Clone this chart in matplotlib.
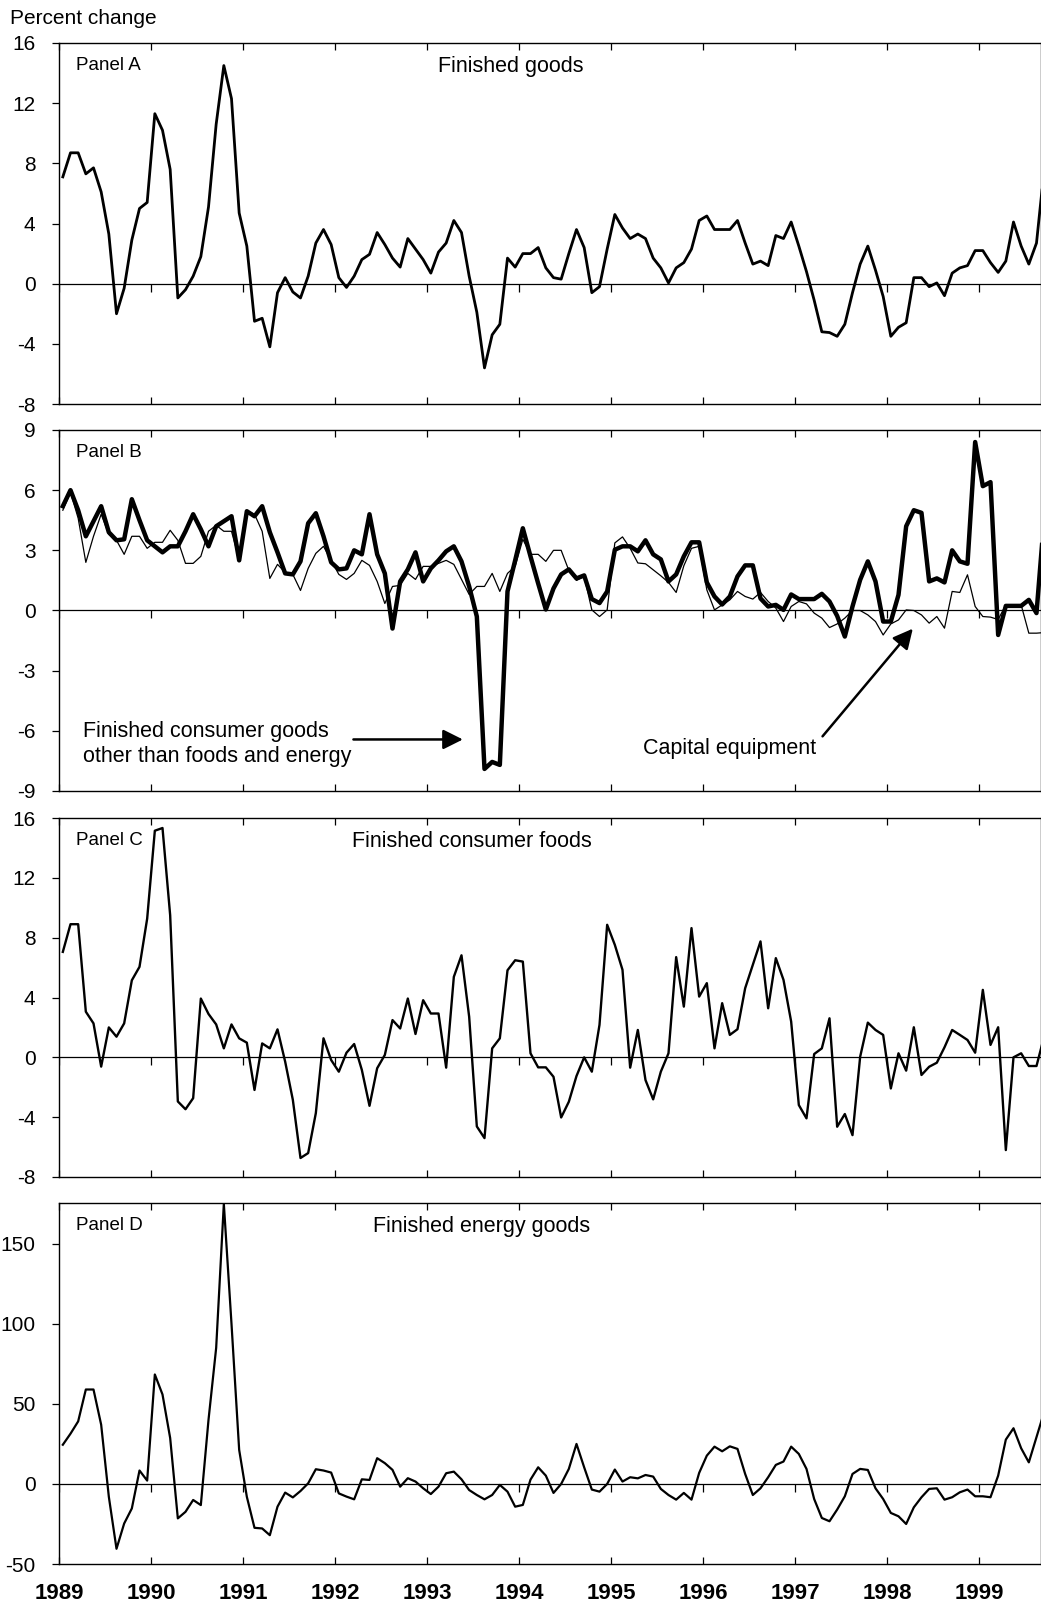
import numpy as np
import matplotlib
matplotlib.use("Agg")
import matplotlib.pyplot as plt

plt.rcParams['font.family'] = ['Liberation Sans', 'DejaVu Sans']

# ---------------- data (monthly, Jan 1989 onward) ----------------
years = list(range(1989, 2000))
year_labels = [str(y) for y in years]

finished_goods = [
    7.1, 8.7, 8.7, 7.3, 7.7, 6.1, 3.3, -2.0, -0.3, 2.9,
    5.0, 5.4, 11.3, 10.2, 7.6, -0.95, -0.4, 0.5, 1.8, 5.1,
    10.6, 14.5, 12.3, 4.7, 2.5, -2.5, -2.3, -4.2, -0.6, 0.4,
    -0.55, -0.95, 0.5, 2.7, 3.6, 2.6, 0.4, -0.25, 0.5, 1.6,
    1.95, 3.4, 2.6, 1.7, 1.1, 3.0, 2.3, 1.6, 0.7, 2.1,
    2.7, 4.2, 3.4, 0.5, -1.9, -5.6, -3.4, -2.7, 1.7, 1.1,
    2.0, 2.0, 2.4, 1.05, 0.4, 0.3, 2.0, 3.6, 2.4, -0.6,
    -0.2, 2.3, 4.6, 3.7, 3.0, 3.3, 3.0, 1.7, 1.05, 0.05,
    1.05, 1.4, 2.3, 4.2, 4.5, 3.6, 3.6, 3.6, 4.2, 2.7,
    1.3, 1.5, 1.2, 3.2, 3.0, 4.1, 2.5, 0.8, -1.1, -3.2,
    -3.25, -3.5, -2.7, -0.6, 1.3, 2.5, 0.9, -0.85, -3.5, -2.9,
    -2.6, 0.4, 0.4, -0.2, 0.05, -0.8, 0.7, 1.05, 1.2, 2.2,
    2.2, 1.4, 0.75, 1.5, 4.1, 2.5, 1.3, 2.7, 7.6,
]

consumer_ex_food_energy = [
    5.2, 6.0, 5.0, 3.7, 4.45, 5.2, 3.9, 3.5, 3.55, 5.55,
    4.5, 3.5, 3.2, 2.9, 3.2, 3.2, 3.95, 4.8, 4.05, 3.2,
    4.2, 4.45, 4.7, 2.5, 4.95, 4.7, 5.2, 3.9, 2.9, 1.85,
    1.8, 2.45, 4.35, 4.85, 3.7, 2.4, 2.05, 2.1, 3.0, 2.8,
    4.8, 2.8, 1.85, -0.9, 1.45, 2.05, 2.9, 1.45, 2.1, 2.5,
    2.95, 3.2, 2.45, 1.2, -0.3, -7.9, -7.55, -7.7, 0.95, 2.5,
    4.1, 2.7, 1.35, 0.05, 1.1, 1.8, 2.05, 1.6, 1.75, 0.57,
    0.37, 0.95, 3.03, 3.2, 3.2, 2.95, 3.5, 2.8, 2.55, 1.45,
    1.8, 2.7, 3.4, 3.4, 1.4, 0.7, 0.3, 0.7, 1.7, 2.25,
    2.25, 0.6, 0.2, 0.28, 0.03, 0.8, 0.57, 0.57, 0.57, 0.83,
    0.45, -0.27, -1.3, 0.2, 1.53, 2.45, 1.45, -0.55, -0.55, 0.78,
    4.2, 5.0, 4.87, 1.45, 1.6, 1.4, 3.0, 2.45, 2.33, 8.4,
    6.2, 6.4, -1.22, 0.23, 0.23, 0.23, 0.53, -0.13, 4.6,
]

capital_equipment = [
    5.0, 5.9, 4.6, 2.4, 3.7, 4.8, 3.8, 3.5, 2.8, 3.7,
    3.7, 3.1, 3.4, 3.4, 4.0, 3.5, 2.35, 2.35, 2.7, 3.95,
    4.25, 3.95, 3.95, 2.55, 4.95, 4.8, 3.95, 1.6, 2.3, 1.9,
    1.8, 1.0, 2.1, 2.85, 3.2, 2.5, 1.8, 1.55, 1.85, 2.5,
    2.25, 1.45, 0.35, 1.2, 1.25, 1.85, 1.55, 2.2, 2.2, 2.35,
    2.5, 2.3, 1.55, 0.8, 1.2, 1.2, 1.85, 0.95, 1.85, 2.2,
    3.55, 2.8, 2.8, 2.45, 3.0, 3.0, 2.0, 1.5, 1.7, 0.03,
    -0.3, 0.03, 3.37, 3.67, 3.1, 2.37, 2.33, 2.03, 1.73, 1.4,
    0.9, 2.23, 3.1, 3.2, 1.03, 0.03, 0.28, 0.53, 0.95, 0.7,
    0.57, 0.9, 0.45, 0.12, -0.55, 0.2, 0.45, 0.33, -0.13, -0.38,
    -0.85, -0.67, -0.38, 0.0, 0.0, -0.22, -0.55, -1.22, -0.67, -0.47,
    0.03, 0.0, -0.22, -0.63, -0.3, -0.88, 0.95, 0.9, 1.78, 0.2,
    -0.3, -0.33, -0.45, 0.28, 0.23, 0.28, -1.13, -1.13, -1.1,
]

consumer_foods = [
    7.05, 8.9, 8.9, 3.05, 2.27, -0.62, 2.0, 1.38, 2.27, 5.15,
    6.05, 9.27, 15.15, 15.33, 9.5, -2.95, -3.47, -2.73, 3.93, 2.9,
    2.2, 0.6, 2.2, 1.27, 0.98, -2.18, 0.93, 0.6, 1.87, -0.29,
    -2.84, -6.73, -6.4, -3.73, 1.27, -0.18, -0.96, 0.31, 0.89, -0.84,
    -3.24, -0.73, 0.16, 2.49, 1.93, 3.93, 1.56, 3.82, 2.93, 2.93,
    -0.69, 5.38, 6.82, 2.71, -4.62, -5.4, 0.6, 1.27, 5.82, 6.49,
    6.4, 0.27, -0.67, -0.67, -1.3, -4.02, -2.97, -1.25, 0.0, -0.96,
    2.17, 8.86, 7.52, 5.85, -0.69, 1.83, -1.52, -2.81, -0.96, 0.27,
    6.7, 3.39, 8.64, 4.06, 4.96, 0.6, 3.62, 1.5, 1.88, 4.62,
    6.18, 7.75, 3.28, 6.63, 5.18, 2.39, -3.19, -4.08, 0.22, 0.6,
    2.61, -4.64, -3.79, -5.2, 0.04, 2.32, 1.83, 1.5, -2.08, 0.27,
    -0.89, 2.01, -1.18, -0.63, -0.36, 0.67, 1.83, 1.5, 1.16, 0.31,
    4.51, 0.83, 2.01, -6.2, 0.0, 0.27, -0.58, -0.58, 1.4,
]

energy_goods = [
    24.5, 31.4, 39.1, 59.0, 59.0, 37.0, -8.0, -40.5, -24.7, -15.3,
    8.4, 2.1, 68.4, 55.9, 28.7, -21.5, -17.4, -10.0, -13.2, 40.0,
    85.0, 175.0, 100.0, 21.3, -8.0, -27.4, -27.8, -32.0, -14.2, -5.4,
    -8.4, -4.4, 0.4, 9.2, 8.4, 7.1, -5.9, -7.9, -9.6, 2.9,
    2.5, 16.1, 13.0, 8.8, -1.7, 3.6, 1.5, -2.7, -6.3, -1.7,
    6.7, 7.7, 2.9, -3.8, -6.9, -9.6, -6.9, -0.6, -4.8, -14.2,
    -13.1, 2.7, 10.4, 5.2, -5.6, 0.0, 9.4, 25.0, 10.4, -3.5,
    -4.8, 0.0, 9.0, 1.5, 4.2, 3.5, 5.6, 4.6, -3.1, -6.9,
    -9.8, -5.6, -9.8, 6.9, 17.7, 23.3, 20.4, 23.5, 21.9, 6.25,
    -6.9, -2.7, 4.2, 11.9, 14.0, 23.3, 18.75, 9.4, -9.4, -21.25,
    -23.3, -16.0, -7.7, 6.25, 9.4, 8.75, -2.7, -9.4, -18.1, -20.2,
    -25.0, -14.6, -8.3, -3.1, -2.7, -9.8, -8.3, -5.2, -3.5, -7.7,
    -7.7, -8.3, 5.2, 27.7, 34.8, 22.3, 13.5, 29.2, 45.0,
]

panel_names = ["Panel A", "Panel B", "Panel C", "Panel D"]
panel_titles = ["Finished goods", "", "Finished consumer foods", "Finished energy goods"]
yticks_A = [-8, -4, 0, 4, 8, 12, 16]
yticks_B = [-9, -6, -3, 0, 3, 6, 9]
yticks_C = [-8, -4, 0, 4, 8, 12, 16]
yticks_D = [-50, 0, 50, 100, 150]

# ---------------- figure ----------------
W, H = 1041, 1609
fig = plt.figure(figsize=(W / 100, H / 100), dpi=100)

def px_axes(top, bottom, left=59, right=1041):
    return fig.add_axes([left / W, 1 - bottom / H, (right - left) / W, (bottom - top) / H])

axA = px_axes(43, 404)
axB = px_axes(430, 791)
axC = px_axes(818, 1177)
axD = px_axes(1203, 1564)

t = 1989 + (np.arange(len(finished_goods)) + 0.5) / 12.0

def style(ax, ylim, yticks, show_x):
    ax.set_xlim(1989, 1999.674)
    ax.set_ylim(*ylim)
    ax.set_yticks(yticks)
    ax.set_yticklabels([str(v) for v in yticks])
    ax.set_xticks(years)
    ax.axhline(0, color="black", lw=0.9, zorder=1)
    ax.plot(years, np.zeros(len(years)), ls="none", marker=3, ms=6,
            mew=0.9, color="black", zorder=1)
    ax.tick_params(axis="y", direction="out", length=5, width=0.9, pad=12,
                   labelsize=15)
    ax.tick_params(axis="x", direction="in", length=5, width=0.9, top=True,
                   bottom=True, pad=14, labelsize=16)
    if show_x:
        ax.set_xticklabels(year_labels, fontweight="bold")
    else:
        ax.set_xticklabels([])
    for s in ax.spines.values():
        s.set_linewidth(1.0)
        s.set_color("black")

def labels(ax, i):
    ax.text(0.017, 0.937, panel_names[i], transform=ax.transAxes,
            fontsize=13.5, va="center", ha="left")
    if panel_titles[i]:
        xc = {0: 0.46, 2: 0.42, 3: 0.43}[i]
        ax.text(xc, 0.935, panel_titles[i], transform=ax.transAxes,
                fontsize=15.5, va="center", ha="center")

# Panel A
axA.plot(t, finished_goods, color="black", lw=2.0, zorder=3)
style(axA, (-8, 16), yticks_A, False)
labels(axA, 0)

# Panel B
axB.plot(t, capital_equipment, color="black", lw=0.9, zorder=3)
axB.plot(t, consumer_ex_food_energy, color="black", lw=3.2, zorder=4)
style(axB, (-9, 9), yticks_B, False)
labels(axB, 1)
axB.text(1989.26, -6.05, "Finished consumer goods", fontsize=15.5, va="center")
axB.text(1989.26, -7.3, "other than foods and energy", fontsize=15.5, va="center")
axB.annotate("", xy=(1993.42, -6.43), xytext=(1992.17, -6.43),
             arrowprops=dict(arrowstyle="-|>", color="black", lw=1.8,
                             mutation_scale=30))
axB.text(1997.23, -6.9, "Capital equipment", fontsize=15.5, va="center", ha="right")
axB.annotate("", xy=(1998.30, -0.8), xytext=(1997.28, -6.38),
             arrowprops=dict(arrowstyle="-|>", color="black", lw=1.8,
                             mutation_scale=30))

# Panel C
axC.plot(t, consumer_foods, color="black", lw=1.7, zorder=3)
style(axC, (-8, 16), yticks_C, False)
labels(axC, 2)

# Panel D
axD.plot(t, energy_goods, color="black", lw=1.6, zorder=3)
style(axD, (-50, 175.5), yticks_D, True)
labels(axD, 3)

fig.text(10 / W, 1 - 19 / H, "Percent change", fontsize=15, va="center", ha="left")

fig.savefig("out.png", dpi=100)
